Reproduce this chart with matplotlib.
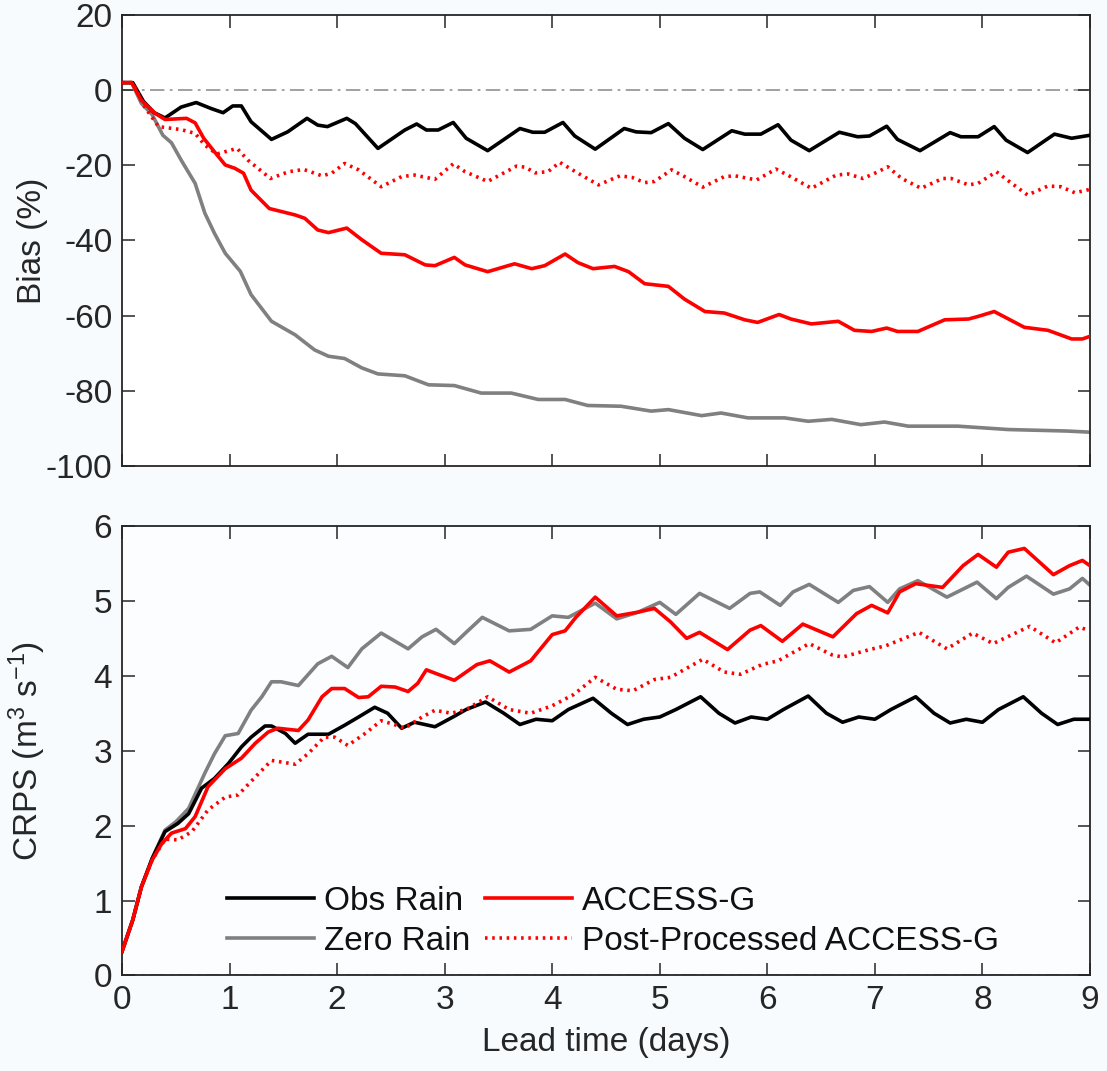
import matplotlib
matplotlib.use("Agg")
import matplotlib.pyplot as plt

plt.rcParams['font.family'] = ['Liberation Sans', 'DejaVu Sans']
plt.rcParams['axes.unicode_minus'] = False
plt.rcParams['mathtext.fontset'] = 'custom'
plt.rcParams['mathtext.rm'] = 'Liberation Sans'
plt.rcParams['mathtext.it'] = 'Liberation Sans:italic'
plt.rcParams['mathtext.default'] = 'regular'

# ---------------- Bias (%) panel data ----------------
obs_bias_x = [0, 0.1, 0.2, 0.3, 0.4, 0.55, 0.69, 0.83, 0.94, 1.03, 1.11, 1.2, 1.39, 1.54, 1.72, 1.82,
              1.91, 2.09, 2.17, 2.38, 2.63, 2.74, 2.83, 2.94, 3.08, 3.2, 3.4, 3.7, 3.82, 3.93, 4.1,
              4.21, 4.4, 4.67, 4.78, 4.92, 5.08, 5.23, 5.4, 5.67, 5.79, 5.94, 6.1, 6.22, 6.39, 6.67,
              6.84, 6.95, 7.11, 7.21, 7.42, 7.7, 7.8, 7.96, 8.11, 8.22, 8.42, 8.67, 8.83, 9.0]
obs_bias_y = [2, 2, -3, -6, -7.4, -4.5, -3.3, -4.9, -6.0, -4.2, -4.2, -8.4, -13.1, -11.1, -7.5, -9.3,
              -9.7, -7.5, -8.9, -15.5, -10.6, -9.0, -10.6, -10.6, -8.6, -12.8, -16.1, -10.2, -11.2, -11.2, -8.6,
              -12.2, -15.7, -10.2, -11.1, -11.3, -8.9, -12.8, -15.8, -10.8, -11.7, -11.7, -9.2, -13.3, -16.1, -11.2,
              -12.4, -12.2, -9.6, -13.1, -16.1, -11.3, -12.4, -12.4, -9.7, -13.3, -16.6, -11.7, -12.8, -12.0]

access_bias_x = [0, 0.09, 0.18, 0.31, 0.4, 0.6, 0.68, 0.76, 0.86, 0.96, 1.05, 1.13, 1.2, 1.37, 1.61, 1.7,
                 1.82, 1.92, 2.09, 2.23, 2.41, 2.63, 2.82, 2.91, 3.09, 3.19, 3.4, 3.65, 3.81, 3.93, 4.12,
                 4.24, 4.38, 4.58, 4.71, 4.86, 5.08, 5.23, 5.42, 5.6, 5.79, 5.91, 6.11, 6.22, 6.41, 6.66,
                 6.81, 6.97, 7.11, 7.21, 7.4, 7.65, 7.87, 7.96, 8.11, 8.39, 8.61, 8.83, 8.93, 9.0]
access_bias_y = [2, 2, -2.7, -6.2, -7.8, -7.5, -8.7, -12.8, -16.4, -19.9, -20.8, -22.1, -26.6, -31.5, -33.2, -34.1,
                 -37.2, -37.9, -36.7, -39.8, -43.4, -43.8, -46.5, -46.7, -44.5, -46.5, -48.3, -46.2, -47.5, -46.7, -43.6,
                 -45.9, -47.5, -46.9, -48.3, -51.5, -52.2, -55.6, -58.9, -59.3, -61.1, -61.8, -59.7, -60.9, -62.2, -61.5,
                 -63.9, -64.2, -63.3, -64.2, -64.2, -61.1, -60.9, -60.2, -58.9, -63.1, -63.9, -66.2, -66.2, -65.5]

zero_bias_x = [0, 0.09, 0.18, 0.28, 0.38, 0.46, 0.55, 0.68, 0.77, 0.86, 0.96, 1.1, 1.2, 1.39, 1.61, 1.79,
               1.92, 2.07, 2.23, 2.38, 2.63, 2.85, 3.09, 3.34, 3.62, 3.87, 4.12, 4.33, 4.64, 4.92, 5.08,
               5.39, 5.57, 5.82, 6.16, 6.38, 6.6, 6.87, 7.09, 7.31, 7.77, 8.24, 8.79, 9.0]
zero_bias_y = [2, 2, -3.5, -6.5, -12, -14, -18.6, -24.8, -32.7, -38.1, -43.4, -48.2, -54.4, -61.5, -65.1, -69.1,
               -70.8, -71.4, -73.9, -75.5, -76.0, -78.4, -78.6, -80.6, -80.6, -82.3, -82.3, -83.9, -84.1, -85.4, -85.0,
               -86.6, -85.9, -87.2, -87.2, -88.1, -87.6, -89.0, -88.3, -89.4, -89.4, -90.3, -90.7, -91.0]

pp_bias_x = [0, 0.1, 0.2, 0.34, 0.55, 0.68, 0.77, 0.88, 1.07, 1.17, 1.38, 1.55, 1.69, 1.86, 1.95, 2.07,
             2.2, 2.41, 2.6, 2.72, 2.91, 3.08, 3.19, 3.4, 3.67, 3.75, 3.84, 3.96, 4.07, 4.24, 4.43,
             4.63, 4.74, 4.86, 4.95, 5.11, 5.23, 5.4, 5.6, 5.7, 5.9, 6.08, 6.19, 6.41, 6.64, 6.75,
             6.89, 7.0, 7.12, 7.25, 7.43, 7.63, 7.71, 7.87, 7.96, 8.13, 8.24, 8.42, 8.61, 8.73, 8.86, 9.0]
pp_bias_y = [2, 2, -4, -9.7, -10.5, -11.5, -14.6, -17.0, -15.5, -18.6, -23.5, -21.7, -21.1, -22.8, -22.1, -19.5,
             -21.2, -25.7, -23.0, -22.6, -23.7, -19.6, -21.7, -24.3, -20.2, -20.5, -22.0, -21.7, -19.2, -22.1, -25.2,
             -22.8, -23.2, -24.6, -24.3, -21.2, -23.0, -25.8, -23.0, -22.8, -23.9, -21.0, -22.6, -26.1, -22.6, -22.3,
             -23.5, -22.1, -20.4, -23.5, -26.1, -23.5, -23.5, -25.2, -24.8, -21.7, -24.1, -27.9, -25.5, -25.7, -27.3, -26.4]

# ---------------- CRPS panel data ----------------
obs_crps_x = [0, 0.1, 0.18, 0.28, 0.4, 0.52, 0.62, 0.74, 0.86, 0.99, 1.11, 1.2, 1.33, 1.39, 1.52, 1.61,
              1.73, 1.92, 2.07, 2.2, 2.35, 2.47, 2.6, 2.72, 2.91, 3.09, 3.2, 3.38, 3.55, 3.7, 3.85,
              4.0, 4.15, 4.38, 4.55, 4.7, 4.85, 5.0, 5.15, 5.38, 5.55, 5.7, 5.85, 6.0, 6.15, 6.38,
              6.55, 6.7, 6.85, 7.0, 7.15, 7.38, 7.55, 7.7, 7.85, 8.0, 8.15, 8.38, 8.55, 8.7, 8.85, 9.0]
obs_crps_y = [0.32, 0.74, 1.18, 1.56, 1.92, 2.03, 2.16, 2.5, 2.63, 2.83, 3.05, 3.18, 3.33, 3.33, 3.23, 3.1,
              3.22, 3.22, 3.34, 3.45, 3.58, 3.5, 3.3, 3.38, 3.32, 3.46, 3.55, 3.65, 3.5, 3.35, 3.42,
              3.4, 3.55, 3.7, 3.5, 3.35, 3.42, 3.45, 3.55, 3.72, 3.5, 3.37, 3.45, 3.42, 3.55, 3.73,
              3.5, 3.38, 3.45, 3.42, 3.55, 3.72, 3.5, 3.37, 3.42, 3.38, 3.55, 3.72, 3.5, 3.35, 3.42, 3.42]

access_crps_x = [0, 0.1, 0.18, 0.28, 0.37, 0.46, 0.59, 0.68, 0.8, 0.96, 1.11, 1.24, 1.36, 1.45, 1.64, 1.73,
                 1.86, 1.95, 2.07, 2.2, 2.29, 2.41, 2.54, 2.66, 2.75, 2.83, 2.92, 3.09, 3.3, 3.42, 3.6,
                 3.8, 4.0, 4.12, 4.22, 4.4, 4.6, 4.8, 4.95, 5.1, 5.25, 5.37, 5.63, 5.84, 5.94, 6.14,
                 6.33, 6.61, 6.83, 6.97, 7.12, 7.23, 7.38, 7.63, 7.82, 7.96, 8.13, 8.24, 8.39, 8.66, 8.81, 8.93, 9.0]
access_crps_y = [0.32, 0.74, 1.18, 1.54, 1.76, 1.9, 1.96, 2.12, 2.52, 2.76, 2.9, 3.1, 3.25, 3.3, 3.27, 3.41,
                 3.72, 3.83, 3.83, 3.71, 3.72, 3.86, 3.85, 3.79, 3.9, 4.08, 4.03, 3.94, 4.15, 4.2, 4.05,
                 4.2, 4.55, 4.6, 4.78, 5.05, 4.8, 4.85, 4.9, 4.72, 4.5, 4.58, 4.35, 4.61, 4.67, 4.46,
                 4.69, 4.52, 4.83, 4.94, 4.84, 5.12, 5.23, 5.18, 5.47, 5.62, 5.45, 5.65, 5.7, 5.35, 5.47, 5.54, 5.47]

zero_crps_x = [0, 0.1, 0.18, 0.28, 0.4, 0.5, 0.62, 0.77, 0.86, 0.96, 1.08, 1.2, 1.3, 1.39, 1.48, 1.64,
               1.82, 1.95, 2.1, 2.23, 2.41, 2.66, 2.79, 2.92, 3.09, 3.2, 3.35, 3.6, 3.8, 4.0, 4.15,
               4.4, 4.6, 4.8, 5.0, 5.15, 5.37, 5.65, 5.84, 5.93, 6.12, 6.24, 6.39, 6.66, 6.8, 6.95,
               7.12, 7.23, 7.4, 7.67, 7.95, 8.13, 8.24, 8.41, 8.66, 8.81, 8.93, 9.0]
zero_crps_y = [0.32, 0.74, 1.18, 1.56, 1.94, 2.05, 2.23, 2.7, 2.96, 3.2, 3.23, 3.54, 3.72, 3.92, 3.92, 3.87,
               4.16, 4.26, 4.11, 4.36, 4.57, 4.36, 4.52, 4.62, 4.43, 4.58, 4.78, 4.6, 4.62, 4.8, 4.78,
               4.97, 4.76, 4.85, 4.98, 4.82, 5.1, 4.9, 5.1, 5.12, 4.94, 5.12, 5.22, 4.98, 5.14, 5.19,
               4.98, 5.16, 5.27, 5.05, 5.25, 5.03, 5.18, 5.33, 5.09, 5.16, 5.3, 5.21]

pp_crps_x = [0, 0.1, 0.18, 0.28, 0.4, 0.52, 0.65, 0.8, 0.96, 1.08, 1.24, 1.39, 1.61, 1.73, 1.88, 1.98,
             2.1, 2.26, 2.41, 2.51, 2.63, 2.79, 2.91, 3.06, 3.2, 3.4, 3.6, 3.8, 4.0, 4.2, 4.4,
             4.6, 4.75, 4.95, 5.1, 5.4, 5.6, 5.75, 5.95, 6.1, 6.39, 6.6, 6.7, 6.95, 7.1, 7.41,
             7.67, 7.91, 8.1, 8.44, 8.68, 8.9, 9.0]
pp_crps_y = [0.32, 0.74, 1.18, 1.54, 1.82, 1.81, 1.92, 2.21, 2.38, 2.41, 2.65, 2.87, 2.82, 2.96, 3.18, 3.18,
             3.07, 3.23, 3.4, 3.36, 3.3, 3.45, 3.54, 3.5, 3.55, 3.72, 3.55, 3.5, 3.6, 3.75, 3.98,
             3.82, 3.8, 3.95, 3.98, 4.22, 4.05, 4.02, 4.15, 4.2, 4.43, 4.28, 4.25, 4.35, 4.4, 4.58,
             4.36, 4.57, 4.43, 4.66, 4.44, 4.65, 4.6]

labels = ["Obs Rain", "Zero Rain", "ACCESS-G", "Post-Processed ACCESS-G"]
x_ticks = list(range(0, 10))
bias_ticks = [-100, -80, -60, -40, -20, 0, 20]
crps_ticks = [0, 1, 2, 3, 4, 5, 6]

# ---------------- styling ----------------
FS = 24
BLACK = '#000000'
GRAY = '#808080'
RED = '#ff0000'
LW = 2.6
DOT = (0, (0.7, 1.3))
TXT = '#262626'

fig = plt.figure(figsize=(11.07, 10.71), dpi=100, facecolor='#f7fbfe')
ax1 = fig.add_axes([0.1102, 0.5649, 0.8744, 0.4211])
ax2 = fig.add_axes([0.1102, 0.0892, 0.8744, 0.4197])
ax1.set_facecolor('white')
ax2.set_facecolor('#fbfdff')

for ax in (ax1, ax2):
    ax.axhline(0, color='#9a9a9a', lw=1.3, ls=(0, (8, 3, 1.5, 3)), zorder=1)
    ax.set_xlim(0, 9)
    ax.set_xticks(x_ticks)
    ax.tick_params(direction='in', top=True, right=True, length=9, width=1.1,
                   labelsize=FS, colors=TXT, pad=7)
    for s in ax.spines.values():
        s.set_color(TXT)
        s.set_linewidth(1.3)

# top panel
ax1.plot(obs_bias_x, obs_bias_y, color=BLACK, lw=LW, zorder=3)
ax1.plot(zero_bias_x, zero_bias_y, color=GRAY, lw=LW, zorder=2)
ax1.plot(access_bias_x, access_bias_y, color=RED, lw=LW, zorder=4)
ax1.plot(pp_bias_x, pp_bias_y, color=RED, lw=LW, ls=DOT, zorder=4)
ax1.set_ylim(-100, 20)
ax1.set_yticks(bias_ticks)
ax1.set_yticklabels([str(v) for v in bias_ticks])
ax1.tick_params(labelbottom=False)
ax1.set_ylabel('Bias (%)', fontsize=FS, color=TXT)

# bottom panel
l1, = ax2.plot(obs_crps_x, obs_crps_y, color=BLACK, lw=LW, zorder=3)
l2, = ax2.plot(zero_crps_x, zero_crps_y, color=GRAY, lw=LW, zorder=2)
l3, = ax2.plot(access_crps_x, access_crps_y, color=RED, lw=LW, zorder=4)
l4, = ax2.plot(pp_crps_x, pp_crps_y, color=RED, lw=LW, ls=DOT, zorder=4)
ax2.set_ylim(0, 6)
ax2.set_yticks(crps_ticks)
ax2.set_ylabel('CRPS (m$^{3}$ s$^{\\mathregular{-1}}$)', fontsize=FS, color=TXT)
ax2.set_xlabel('Lead time (days)', fontsize=FS, color=TXT, labelpad=8)
ax1.yaxis.set_label_coords(-0.076, 0.5)
ax2.yaxis.set_label_coords(-0.076, 0.5)

leg = ax2.legend([l1, l2, l3, l4], labels, ncol=2, loc='upper left',
                 bbox_to_anchor=(0.109, 0.2), frameon=False, fontsize=FS,
                 handlelength=2.6, handletextpad=0.3, columnspacing=0.45,
                 labelspacing=0.27, borderpad=0, borderaxespad=0)
for t in leg.get_texts():
    t.set_color('#111111')

fig.savefig('out.png', dpi=100, facecolor=fig.get_facecolor())
